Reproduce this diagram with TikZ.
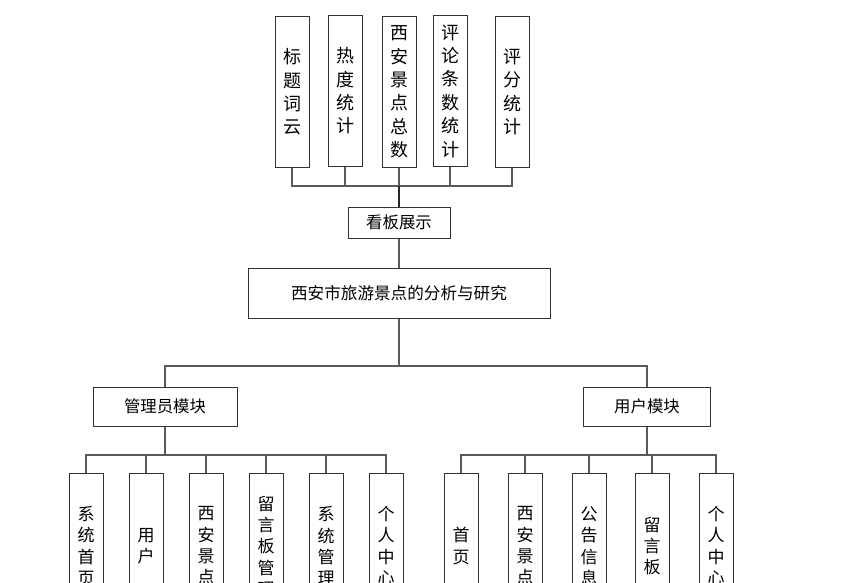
\documentclass[tikz,border=0pt]{standalone}
\usepackage{fontspec}
\newfontfamily\cjk{Noto Sans CJK SC}

\begin{document}
\begin{tikzpicture}[x=1pt,y=-1pt,
    box/.style={draw=black!80,line width=1pt,fill=white,inner sep=0pt,align=center},
    hbox/.style={box,font=\cjk\fontsize{16.4}{18}\selectfont},
    vtop/.style={box,minimum width=34pt,minimum height=150pt,font=\cjk\fontsize{18}{23.4}\selectfont},
    vlow/.style={box,minimum width=34pt,minimum height=146pt,font=\cjk\fontsize{17}{21.3}\selectfont},
    link/.style={draw=black!65,line width=1.3pt}]
    \clip (0,0) rectangle (862,583);

    \node[vtop] (ciyun) at (292,92) {标\\题\\词\\云};
    \node[vtop] (redu) at (345,91) {热\\度\\统\\计};
    \node[vtop] (zongshu) at (399,92) {西\\安\\景\\点\\总\\数};
    \node[vtop] (pinglun) at (450,91) {评\\论\\条\\数\\统\\计};
    \node[vtop] (pingfen) at (512,92) {评\\分\\统\\计};

    \node[hbox,minimum width=102pt,minimum height=31pt] (kanban) at (399,222.5) {看板展示};
    \node[hbox,minimum width=302pt,minimum height=50pt,font=\cjk\fontsize{16.6}{18}\selectfont] (title) at (399,293) {西安市旅游景点的分析与研究};
    \node[hbox,minimum width=144pt,minimum height=39pt] (admin) at (165,406.5) {管理员模块};
    \node[hbox,minimum width=127pt,minimum height=39pt] (user) at (647,406.5) {用户模块};

    \foreach \name/\x/\txt in {shouye/86/{系\\统\\首\\页},yonghu/146/{用\\户},jingdian/206/{西\\安\\景\\点},
        liuyan/266/{留\\言\\板\\管\\理},xitong/326/{系\\统\\管\\理},geren/386/{个\\人\\中\\心}}
        \node[vlow] (a-\name) at (\x,546) {\txt};
    \foreach \name/\x/\txt in {shouye/461/{首\\页},jingdian/525/{西\\安\\景\\点},gonggao/589/{公\\告\\信\\息},
        liuyan/652/{留\\言\\板},geren/716/{个\\人\\中\\心}}
        \node[vlow] (u-\name) at (\x,546) {\txt};

    \coordinate (topbus) at (399,186);
    \coordinate (midbus) at (399,366);
    \coordinate (abus) at (165,455);
    \coordinate (ubus) at (647,455);

    \foreach \n in {ciyun,redu,zongshu,pinglun,pingfen}
        \draw[link] (\n.south) |- (topbus);
    \draw[link,draw=black!85] (topbus) -- (kanban.north);
    \draw[link] (kanban.south) -- (title.north);
    \draw[link] (title.south) -- (midbus);
    \draw[link] (admin.north) |- (midbus);
    \draw[link] (user.north) |- (midbus);
    \draw[link] (admin.south) -- (abus);
    \draw[link] (user.south) -- (ubus);
    \foreach \n in {shouye,yonghu,jingdian,liuyan,xitong,geren}
        \draw[link] (a-\n.north) |- (abus);
    \foreach \n in {shouye,jingdian,gonggao,liuyan,geren}
        \draw[link] (u-\n.north) |- (ubus);
\end{tikzpicture}
\end{document}
